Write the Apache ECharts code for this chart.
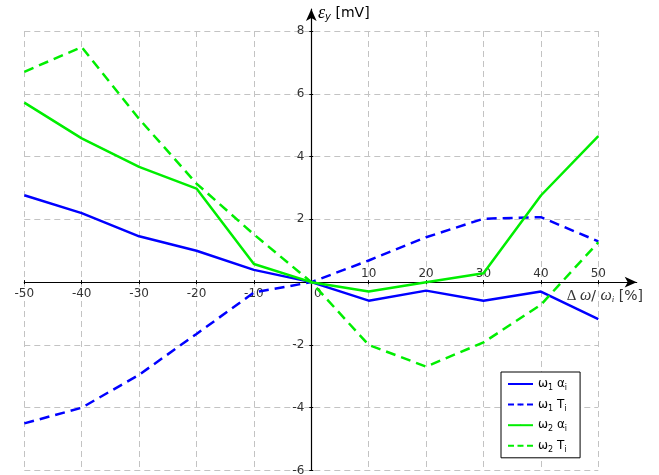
<!DOCTYPE html>
<html><head><meta charset="utf-8">
<script src="https://cdn.jsdelivr.net/npm/echarts@6/dist/echarts.min.js"></script>
<style>html,body{margin:0;padding:0;background:#fff}#c{width:659px;height:475px}</style>
</head><body><div id="c"></div>
<script>
const xValues = [-50, -40, -30, -20, -10, 0, 10, 20, 30, 40, 50];
const w1Alpha = [2.77, 2.2, 1.46, 1.0, 0.39, 0, -0.59, -0.27, -0.59, -0.3, -1.18];
const w1T = [-4.5, -4.0, -2.95, -1.65, -0.33, 0, 0.69, 1.43, 2.02, 2.07, 1.3];
const w2Alpha = [5.72, 4.58, 3.67, 2.98, 0.58, 0, -0.3, 0.0, 0.28, 2.76, 4.65];
const w2T = [6.7, 7.49, 5.2, 3.14, 1.52, 0, -2.0, -2.69, -1.92, -0.72, 1.27];
const xLabelsBelow = [-50, -40, -30, -20, -10, 0];
const xLabelsAbove = [10, 20, 30, 40, 50];
const xTickValues = [-50, -40, -30, -20, -10, 10, 20, 30, 40, 50];
const yTickValues = [-6, -4, -2, 2, 4, 6, 8];
const seriesNames = ['ω1 αi', 'ω1 Ti', 'ω2 αi', 'ω2 Ti'];
const legendRich = ['ω{s|1} α{s|i}', 'ω{s|1} T{s|i}', 'ω{s|2} α{s|i}', 'ω{s|2} T{s|i}'];

const FONT = 'DejaVu Sans';
const BLUE = '#0000ff', GREEN = '#00ee00';
const X_MIN = -50, X_MAX = 50, Y_MIN = -6, Y_MAX = 8;
const X_ARROW_MAX = 56.69, Y_ARROW_MAX = 8.70;
const pairs = ys => xValues.map((x, i) => [x, ys[i]]);

// plot frame
const L = 24.3, R = 60.7, T = 31, B = 4.5, W = 659, H = 475;
const pxPerX = (W - L - R) / (X_MAX - X_MIN);
const pxPerY = (H - T - B) / (Y_MAX - Y_MIN);
const zeroX = L + (0 - X_MIN) * pxPerX;
const zeroY = T + (Y_MAX - 0) * pxPerY;
const arrowRight = W - (L + (X_ARROW_MAX - X_MIN) * pxPerX);
const arrowTop = T - (Y_ARROW_MAX - Y_MAX) * pxPerY;

const chart = echarts.init(document.getElementById('c'), null, {renderer: 'canvas'});
const gridLine = {show: true, lineStyle: {color: '#c3c3c3', width: 1, type: [6, 4]}};
const labelStyle = {fontFamily: FONT, fontSize: 12, color: '#333'};
const hiddenAxis = (gi) => ({gridIndex: gi, type: 'value', show: false, min: 0, max: 1, axisLine: {onZero: false}});
const g = (o) => Object.assign({containLabel: false, outerBoundsMode: 'none'}, o);

function mkSeries(name, ys, color, dashed) {
  return {
    name, type: 'line', xAxisIndex: 0, yAxisIndex: 0, data: pairs(ys),
    symbol: 'none', silent: true, animation: false, z: 3,
    lineStyle: {color, width: 2.5, type: dashed ? [10, 6] : 'solid'},
    itemStyle: {color}
  };
}

chart.setOption({
  animation: false,
  backgroundColor: '#fff',
  grid: [
    g({left: L, right: R, top: T, bottom: B}),
    g({left: L, right: arrowRight, top: T, bottom: H - zeroY}),
    g({left: L, right: arrowRight, top: zeroY, bottom: B}),
    g({left: zeroX, right: R, top: arrowTop, bottom: B}),
    g({left: L, right: W - zeroX, top: arrowTop, bottom: B})
  ],
  xAxis: [
    {gridIndex: 0, type: 'value', min: X_MIN, max: X_MAX, interval: 10,
     axisLine: {show: false, onZero: false}, axisTick: {show: false}, axisLabel: {show: false}, splitLine: gridLine},
    {gridIndex: 1, type: 'value', min: X_MIN, max: X_ARROW_MAX, interval: 10, position: 'bottom',
     axisLine: {show: true, onZero: false, symbol: ['none', 'arrow'], symbolSize: [8, 12],
                lineStyle: {color: '#000', width: 1.2}},
     axisTick: {show: true, customValues: xTickValues, length: 2, lineStyle: {color: '#000'}},
     axisLabel: {show: true, customValues: xLabelsBelow, margin: 6,
                 formatter: v => v === 0 ? '{z|0}' : String(v),
                 ...labelStyle, rich: {z: {padding: [0, 0, 0, 13], fontFamily: FONT, fontSize: 12, color: '#333'}}},
     splitLine: {show: false}},
    {gridIndex: 2, type: 'value', min: X_MIN, max: X_ARROW_MAX, interval: 10, position: 'top',
     axisLine: {show: false, onZero: false},
     axisTick: {show: true, customValues: xTickValues, length: 2, lineStyle: {color: '#000'}},
     axisLabel: {show: true, customValues: xLabelsAbove, margin: 2, ...labelStyle},
     splitLine: {show: false}},
    hiddenAxis(3),
    hiddenAxis(4)
  ],
  yAxis: [
    {gridIndex: 0, type: 'value', min: Y_MIN, max: Y_MAX, interval: 2,
     axisLine: {show: false, onZero: false}, axisTick: {show: false}, axisLabel: {show: false}, splitLine: gridLine},
    hiddenAxis(1),
    hiddenAxis(2),
    {gridIndex: 3, type: 'value', min: Y_MIN, max: Y_ARROW_MAX, interval: 2, position: 'left',
     axisLine: {show: true, onZero: false, symbol: ['none', 'arrow'], symbolSize: [8, 12],
                lineStyle: {color: '#000', width: 1.2}},
     axisTick: {show: true, customValues: yTickValues, length: 2, lineStyle: {color: '#000'}},
     axisLabel: {show: true, customValues: yTickValues, margin: 7, ...labelStyle},
     splitLine: {show: false}},
    {gridIndex: 4, type: 'value', min: Y_MIN, max: Y_ARROW_MAX, interval: 2, position: 'right',
     axisLine: {show: false, onZero: false},
     axisTick: {show: true, customValues: yTickValues, length: 2, lineStyle: {color: '#000'}},
     axisLabel: {show: false}, splitLine: {show: false}}
  ],
  legend: {
    orient: 'vertical', left: 501, top: 372,
    backgroundColor: '#fff', borderColor: '#000', borderWidth: 1, borderRadius: 0,
    padding: [4, 13, 4, 6], itemWidth: 25, itemHeight: 2, itemGap: 4.6, itemTextGap: 7,
    data: seriesNames.map((n, i) => i % 2 === 1 ? {name: n, lineStyle: {type: [6, 3.5]}} : {name: n}),
    formatter: name => legendRich[seriesNames.indexOf(name)],
    textStyle: {fontFamily: FONT, fontSize: 12, color: '#000', lineHeight: 16,
      rich: {s: {fontFamily: FONT, fontSize: 8, lineHeight: 16, verticalAlign: 'bottom', color: '#000'}}}
  },
  graphic: [
    {type: 'text', left: 318, top: 4, z: 10, silent: true,
     style: {text: '{e|ε}{s|y} [mV]', fontFamily: FONT, fontSize: 14, fill: '#000',
       rich: {e: {fontFamily: 'Liberation Serif', fontStyle: 'italic', fontSize: 18, fill: '#000'},
              s: {fontFamily: FONT, fontStyle: 'italic', fontSize: 10, fill: '#000', padding: [8, 0, 0, 0]}}}},
    {type: 'text', right: 16, top: 288, z: 10, silent: true,
     style: {text: '{g|Δ }{w|ω}/ {w|ω}{s|i} [%]', fontFamily: FONT, fontSize: 14, fill: '#333',
       rich: {g: {fontFamily: 'Liberation Serif', fontSize: 15, fill: '#333'},
              w: {fontFamily: 'Liberation Serif', fontStyle: 'italic', fontSize: 16, fill: '#333'},
              s: {fontFamily: 'Liberation Serif', fontStyle: 'italic', fontSize: 9, fill: '#333', padding: [7, 0, 0, 0]}}}}
  ],
  series: [
    mkSeries(seriesNames[0], w1Alpha, BLUE, false),
    mkSeries(seriesNames[1], w1T, BLUE, true),
    mkSeries(seriesNames[2], w2Alpha, GREEN, false),
    mkSeries(seriesNames[3], w2T, GREEN, true)
  ]
});
</script></body></html>
